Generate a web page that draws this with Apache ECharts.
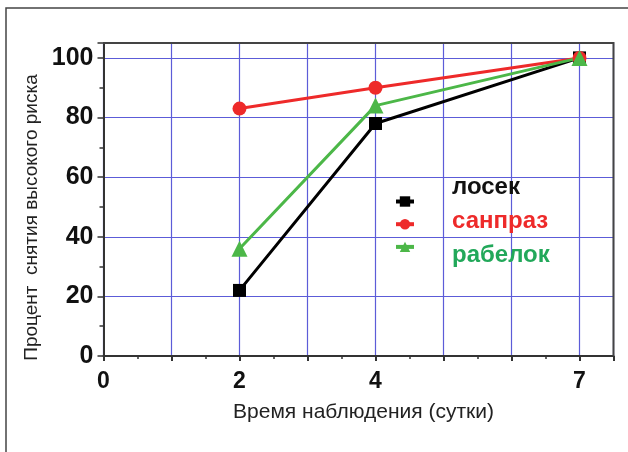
<!DOCTYPE html>
<html>
<head>
<meta charset="utf-8">
<script src="https://cdn.jsdelivr.net/npm/echarts@6/dist/echarts.min.js"></script>
<style>
  html, body { margin: 0; padding: 0; background: #fff; }
  #chart { width: 628px; height: 452px; }
</style>
</head>
<body>
<div id="chart"></div>
<script>
// дни наблюдения
var days = [2, 4, 7];
var xLabels = [0, 2, 4, 7];

var names = ['лосек', 'санпраз', 'рабелок'];
var losek = [22, 78, 100];
var sanpraz = [83, 90, 100];
var rabelok = [36, 84, 100];

var colors = ['#000000', '#ee2a2a', '#4cb748'];
var textColors = ['#111111', '#ee2a2a', '#22a85a'];

function pairs(vals) {
	var out = [];
	for (var i = 0; i < days.length; i++) out.push([days[i], vals[i]]);
	return out;
}

var gridColor = '#5c5cd8';
var axisColor = '#333333';

function mkSeries(name, vals, color, symbol, size) {
	return {
		name: name,
		type: 'line',
		data: pairs(vals),
		symbol: symbol,
		symbolSize: size,
		lineStyle: { color: color, width: 3 },
		itemStyle: { color: color },
		z: 5
	};
}

var option = {
	animation: false,
	backgroundColor: '#fff',
	grid: { left: 103.5, right: 14.5, top: 43, bottom: 96 },
	graphic: [{
		type: 'rect',
		shape: { x: 6, y: 8, width: 700, height: 600 },
		style: { fill: 'none', stroke: '#444', lineWidth: 1.5 },
		silent: true
	}, {
		// рамка сверху и справа
		type: 'polyline',
		shape: { points: [[103, 43], [613.5, 43], [613.5, 356]] },
		style: { fill: 'none', stroke: '#444', lineWidth: 2 },
		z: 10
	}],
	legend: [{
		orient: 'vertical',
		left: 389, top: 190,
		itemWidth: 18, itemHeight: 13,
		itemGap: 11,
		data: names,
		lineStyle: { width: 4 },
		formatter: function () { return ''; },
		textStyle: { fontSize: 1 }
	}, {
		orient: 'vertical',
		left: 442, top: 170,
		itemWidth: 0, itemHeight: 0,
		itemGap: 10,
		icon: 'none',
		data: names.map(function (n, i) {
			return { name: n, textStyle: { color: textColors[i] } };
		}),
		textStyle: { fontSize: 24, fontWeight: 'bold', fontFamily: 'Liberation Sans', padding: 0 }
	}],
	xAxis: {
		type: 'value',
		min: 0, max: 7.5, interval: 1,
		name: 'Время наблюдения (сутки)',
		nameLocation: 'middle',
		nameGap: 46,
		nameTextStyle: { fontSize: 21, color: '#222', fontFamily: 'Liberation Sans', padding: [0, 0, 0, 10] },
		axisLine: { onZero: false, lineStyle: { color: axisColor, width: 2 } },
		axisTick: { show: true, length: 5, lineStyle: { color: axisColor, width: 2 } },
		minorTick: { show: true, splitNumber: 2, length: 3, lineStyle: { color: axisColor, width: 1.5 } },
		axisLabel: {
			margin: 14,
			fontSize: 23, fontWeight: 'bold', color: '#111', fontFamily: 'Liberation Sans',
			formatter: function (v) { return xLabels.indexOf(v) >= 0 ? String(v) : ''; }
		},
		splitLine: { show: true, lineStyle: { color: [gridColor], width: 1.2, opacity: 1 } }
	},
	yAxis: {
		type: 'value',
		min: 0, max: 105, interval: 20,
		name: 'Процент  снятия высокого риска',
		nameLocation: 'middle',
		nameGap: 60,
		nameTextStyle: { fontSize: 19, color: '#222', fontFamily: 'Liberation Sans', padding: [0, 36, 0, 0] },
		axisLine: { show: true, lineStyle: { color: axisColor, width: 2 } },
		axisTick: { show: true, length: 6, lineStyle: { color: axisColor, width: 1.5 } },
		minorTick: { show: true, splitNumber: 2, length: 4, lineStyle: { color: axisColor, width: 1.5 } },
		axisLabel: {
			margin: 10,
			fontSize: 25, fontWeight: 'bold', color: '#111', fontFamily: 'Liberation Sans',
			formatter: function (v) { return v % 20 === 0 ? String(v) : ''; }
		},
		splitLine: { show: true, lineStyle: { color: [gridColor], width: 1.2 } }
	},
	series: [
		mkSeries(names[0], losek, colors[0], 'rect', 13),
		mkSeries(names[1], sanpraz, colors[1], 'circle', 14),
		mkSeries(names[2], rabelok, colors[2], 'triangle', 16)
	]
};

var myChart = echarts.init(document.getElementById('chart'));
myChart.setOption(option);
</script>
</body>
</html>
